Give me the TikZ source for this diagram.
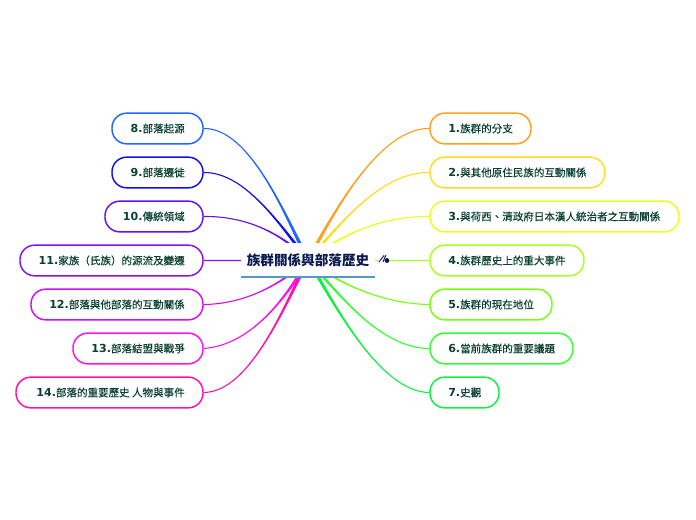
\documentclass[tikz,border=0pt]{standalone}
\usepackage{fontspec}
\setmainfont{DejaVu Sans}
\newfontfamily\cjkfont[BoldFont={Noto Sans CJK TC},BoldFeatures={FakeBold=0.35}]{Noto Sans CJK TC}
\newfontfamily\cjktitle{Noto Sans CJK TC}
\newfontfamily\lat{DejaVu Sans}[BoldFont={DejaVu Sans Bold}]
\usetikzlibrary{calc,backgrounds}
\definecolor{txt}{HTML}{0A4033}
\definecolor{ttl}{HTML}{0A1A50}
\definecolor{ulc}{HTML}{5599CC}
\definecolor{ca}{HTML}{FFA020}\definecolor{cb}{HTML}{FFDD22}\definecolor{cc}{HTML}{E8FF22}
\definecolor{cd}{HTML}{AAFF22}\definecolor{ce}{HTML}{77FF11}\definecolor{cf}{HTML}{33FF33}
\definecolor{cg}{HTML}{11EE44}\definecolor{ch}{HTML}{2266FF}\definecolor{ci}{HTML}{1111EE}
\definecolor{cj}{HTML}{6611EE}\definecolor{ck}{HTML}{8811EE}\definecolor{cl}{HTML}{CC11EE}
\definecolor{cm}{HTML}{FF11EE}\definecolor{cn}{HTML}{FF11AA}
\tikzset{x=0.75pt,y=-0.75pt,
 topic/.style={draw,line width=1.1pt,rounded corners=11pt,fill=white,minimum height=23pt,inner sep=0pt},
 label/.style={text=txt,inner sep=0pt},
 titlebox/.style={fill=white,inner sep=0pt,minimum width=100.5pt,minimum height=25.5pt,text=ttl,font=\cjktitle\bfseries\fontsize{10.2pt}{12pt}\selectfont},
 underline/.style={draw=#1,line width=0.9pt}}
\newcommand{\lbl}[2]{{\fontsize{8.3pt}{10pt}\selectfont\lat\bfseries #1}{\fontsize{7.9pt}{10pt}\cjkfont\selectfont\bfseries #2}}
\newcommand{\topicnode}[7]{\node[topic,draw=#5,minimum width={(#3-#2)*0.75pt}] (#1) at ({(#2+#3)/2},#4) {};
 \node[label,anchor=base west] (#1t) at ({#2+18},#4+4) {\lbl{#6}{#7}};}
\newcommand{\topicnodeL}[7]{\node[topic,draw=#5,minimum width={(#3-#2)*0.75pt}] (#1) at ({(#2+#3)/2},#4) {};
 \node[label,anchor=base east] (#1t) at ({#3-18},#4+4) {\lbl{#6}{#7}};}
\newcommand{\conn}[5]{\path[draw=#1,fill=#1,line width=0.8pt,line join=round] (#2) .. controls (#3) and (#4) .. ($(#5)+(1.8,0)$) -- ($(#5)+(-1.8,0)$) .. controls (#4) and (#3) .. (#2) -- cycle;}
\begin{document}
\begin{tikzpicture}
\useasboundingbox (0,0) rectangle (696,520);
\topicnode{n1}{430}{531}{128.5}{ca}{1.}{族群的分支}
\topicnode{n2}{430}{605}{172.5}{cb}{2.}{與其他原住民族的互動關係}
\topicnode{n3}{430}{679}{216.5}{cc}{3.}{與荷西、清政府日本漢人統治者之互動關係}
\topicnode{n4}{430}{584}{260.5}{cd}{4.}{族群歷史上的重大事件}
\topicnode{n5}{430}{552}{304.5}{ce}{5.}{族群的現在地位}
\topicnode{n6}{430}{573}{348.5}{cf}{6.}{當前族群的重要議題}
\topicnode{n7}{430}{499}{392.5}{cg}{7.}{史觀}
\topicnodeL{n8}{112}{203}{128.5}{ch}{8.}{部落起源}
\topicnodeL{n9}{112}{203}{172.5}{ci}{9.}{部落遷徙}
\topicnodeL{n10}{105}{203}{216.5}{cj}{10.}{傳統領域}
\topicnodeL{n11}{20}{203}{260.5}{ck}{11.}{家族（氏族）的源流及變遷}
\topicnodeL{n12}{31}{203}{304.5}{cl}{12.}{部落與他部落的互動關係}
\topicnodeL{n13}{73}{203}{348.5}{cm}{13.}{部落結盟與戰爭}
\topicnodeL{n14}{16}{203}{392.5}{cn}{14.}{部落的重要歷史 人物與事件}
\node[titlebox] (title) at (308,260) {族群關係與部落歷史};
\coordinate (tl) at (241,277);
\coordinate (tr) at (375,277);
\draw[underline=ulc] (tl) -- (tr);
\node[inner sep=0pt,minimum width=9pt,minimum height=9pt,fill=white] (icon) at (384,259) {};
\draw[ttl,line width=0.7pt] (379,262) -- (384,255.5) (383,262) -- (386,255);
\fill[ttl] (387,260.5) circle (2.4);
\begin{scope}[on background layer]
\fill[white] (0,0) rectangle (696,520);
\coordinate (hl) at (308,260);
\coordinate (hr) at (308,260);
\conn{ch}{n8.east}{250,128}{285,215}{hl}
\conn{ci}{n9.east}{245,172}{280,225}{hl}
\conn{cj}{n10.east}{245,216}{280,232}{hl}
\conn{ck}{n11.east}{235,260.5}{270,260.5}{hl}
\conn{cl}{n12.east}{245,304}{280,285}{hl}
\conn{cm}{n13.east}{250,345}{285,300}{hl}
\conn{cn}{n14.east}{250,392}{285,305}{hl}
\conn{ca}{n1.west}{380,128}{335,210}{hr}
\conn{cb}{n2.west}{380,172}{340,225}{hr}
\conn{cc}{n3.west}{385,216}{345,232}{hr}
\conn{cd}{n4.west}{400,260.5}{350,260.5}{hr}
\conn{ce}{n5.west}{385,304}{340,285}{hr}
\conn{cf}{n6.west}{380,348}{340,295}{hr}
\conn{cg}{n7.west}{380,392}{335,305}{hr}
\end{scope}
\end{tikzpicture}
\end{document}
